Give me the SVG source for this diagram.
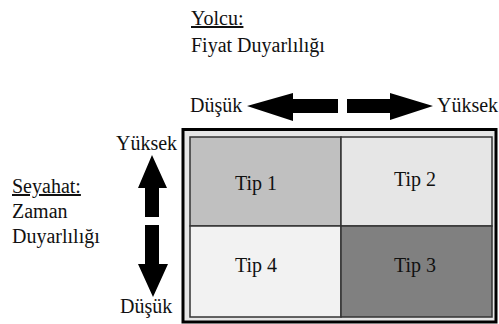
<svg xmlns="http://www.w3.org/2000/svg" width="499" height="324" viewBox="0 0 499 324">
  <style>
    text { font-family: "Liberation Serif", "Times New Roman", serif; font-size: 20px; fill: #111; }
    .mid { text-anchor: middle; }
    .cell { stroke: #333; stroke-width: 1.5; }
    .arrow { fill: #000; }
  </style>
  <rect width="499" height="324" fill="#fff"/>

  <!-- axis titles -->
  <g id="title-top">
    <text x="191" y="25" text-decoration="underline">Yolcu:</text>
    <text x="191" y="52">Fiyat Duyarlılığı</text>
  </g>
  <g id="title-left">
    <text x="12" y="193" text-decoration="underline">Seyahat:</text>
    <text x="12" y="218">Zaman</text>
    <text x="12" y="243">Duyarlılığı</text>
  </g>

  <!-- axis labels -->
  <g id="axis-labels">
    <text x="190" y="112">Düşük</text>
    <text x="437" y="112">Yüksek</text>
    <text x="116" y="150">Yüksek</text>
    <text x="120" y="313">Düşük</text>
  </g>

  <!-- arrows -->
  <g id="connectors">
    <polygon class="arrow" points="247,106 293,93 293,99 338,99 338,113 293,113 293,121"/>
    <polygon class="arrow" points="433,106 390,93 390,99 347,99 347,113 390,113 390,120"/>
    <polygon class="arrow" points="152,155 138,188 145,188 145,217 159,217 159,188 167,188"/>
    <polygon class="arrow" points="153,297 138,264 145,264 145,225 159,225 159,264 168,264"/>
  </g>

  <!-- matrix frame -->
  <g id="frame">
    <rect x="183" y="129.5" width="313" height="192.5" fill="#e6e6e6" stroke="#000" stroke-width="3"/>
  </g>

  <g id="tip1">
    <rect class="cell" x="190" y="137" width="151" height="89" fill="#c0c0c0"/>
    <text class="mid" x="256" y="190">Tip 1</text>
  </g>
  <g id="tip2">
    <rect class="cell" x="341" y="137" width="151" height="89" fill="#e6e6e6"/>
    <text class="mid" x="415" y="186">Tip 2</text>
  </g>
  <g id="tip4">
    <rect class="cell" x="190" y="226" width="151" height="91" fill="#f2f2f2"/>
    <text class="mid" x="256" y="272">Tip 4</text>
  </g>
  <g id="tip3">
    <rect class="cell" x="341" y="226" width="151" height="91" fill="#808080"/>
    <text class="mid" x="415" y="272">Tip 3</text>
  </g>
</svg>
